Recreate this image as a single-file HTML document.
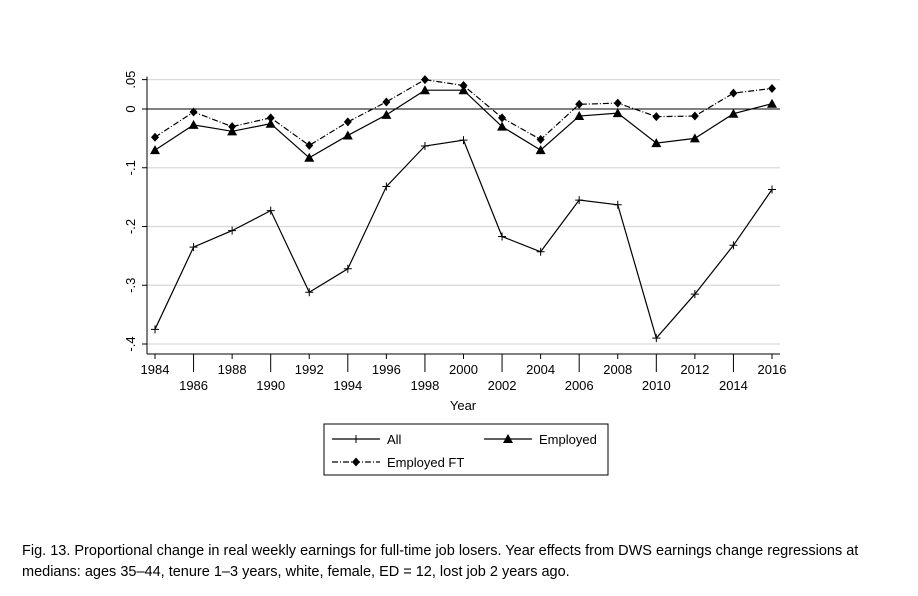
<!DOCTYPE html>
<html><head><meta charset="utf-8"><style>
body{margin:0;background:#fff;font-family:"Liberation Sans",Arial,sans-serif}
#c{position:absolute;left:0;top:0}
.cap{position:absolute;left:22px;top:541px;width:880px;font-size:14.5px;line-height:21px;color:#000}
</style></head><body>
<svg id="c" width="918" height="596" font-family="Liberation Sans, Arial, sans-serif"></svg>
<div class="cap">Fig. 13. Proportional change in real weekly earnings for full-time job losers. Year effects from DWS earnings change regressions at medians: ages 35–44, tenure 1–3 years, white, female, ED = 12, lost job 2 years ago.</div>
<script>
const years=[1984,1986,1988,1990,1992,1994,1996,1998,2000,2002,2004,2006,2008,2010,2012,2014,2016];
const allVals=[-0.375,-0.235,-0.207,-0.173,-0.312,-0.272,-0.132,-0.063,-0.053,-0.217,-0.243,-0.155,-0.163,-0.390,-0.315,-0.232,-0.137];
const empVals=[-0.070,-0.027,-0.038,-0.025,-0.083,-0.045,-0.010,0.032,0.032,-0.030,-0.070,-0.012,-0.007,-0.058,-0.050,-0.008,0.009];
const ftVals=[-0.048,-0.005,-0.030,-0.015,-0.062,-0.022,0.012,0.050,0.040,-0.015,-0.052,0.008,0.010,-0.013,-0.012,0.027,0.035];
const yTicks=[0.05,0,-0.1,-0.2,-0.3,-0.4];
const yTickLabels=[".05","0","-.1","-.2","-.3","-.4"];
const NS="http://www.w3.org/2000/svg";
const svg=document.getElementById('c');
const X=v=>155+(v-1984)*(772-155)/32;
const Y=v=>109-v*587.5;
function mk(t,a,p){const e=document.createElementNS(NS,t);for(const k in a)e.setAttribute(k,a[k]);(p||svg).appendChild(e);return e;}
// grid
yTicks.forEach((t,i)=>{
 if(t!==0){const g=mk('line',{x1:147,x2:780,y1:Y(t),y2:Y(t),stroke:'#d9d9d9','stroke-width':1.2});
 
 }
 const tk=mk('line',{x1:142,x2:147,y1:Y(t),y2:Y(t),stroke:'#000'});
 
 
 const tx=mk('text',{x:0,y:0,'font-size':13,'text-anchor':'middle',transform:`translate(135,${Y(t)}) rotate(-90)`});
 tx.textContent=yTickLabels[i];
 
 
});
const zl=mk('line',{x1:147,x2:780,y1:Y(0),y2:Y(0),stroke:'#000','stroke-width':1});


const ya=mk('line',{x1:147,x2:147,y1:Y(0.05)-3,y2:Y(-0.4)+10,stroke:'#000'});


const xa=mk('line',{x1:147,x2:780,y1:354,y2:354,stroke:'#000'});


years.forEach((yr,i)=>{
 const low=i%2===1;
 const tk=mk('line',{x1:X(yr),x2:X(yr),y1:354,y2:low?372:359,stroke:'#000'});
 
 
 const tx=mk('text',{x:X(yr),y:low?390:374,'font-size':13,'text-anchor':'middle'});
 tx.textContent=yr;
 
 
});
const xt=mk('text',{x:463,y:410,'font-size':13,'text-anchor':'middle'});xt.textContent='Year';


function plus(x,y,g){mk('path',{d:`M${x-4},${y}H${x+4}M${x},${y-4}V${y+4}`,stroke:'#000','stroke-width':1},g);}
function tri(x,y,g){mk('path',{d:`M${x},${y-5}L${x+5},${y+4}L${x-5},${y+4}Z`,fill:'#000'},g);}
function dia(x,y,g){mk('path',{d:`M${x},${y-4.5}L${x+4},${y}L${x},${y+4.5}L${x-4},${y}Z`,fill:'#000'},g);}
function series(vals,name,dash,marker){
 const g=mk('g',{});
 mk('polyline',{points:vals.map((v,i)=>X(years[i])+','+Y(v)).join(' '),fill:'none',stroke:'#000','stroke-width':1.2,'stroke-dasharray':dash},g);
 vals.forEach((v,i)=>marker(X(years[i]),Y(v),g));
}
series(allVals,'series-all','',plus);
series(empVals,'series-employed','',tri);
series(ftVals,'series-employed-ft','6,2,1,2',dia);
// legend
const lg=mk('g',{});
mk('rect',{x:324,y:424,width:284,height:51,fill:'#fff',stroke:'#000'},lg);
mk('line',{x1:332,x2:380,y1:439,y2:439,stroke:'#000','stroke-width':1.2},lg);plus(356,439,lg);
mk('text',{x:387,y:444,'font-size':13},lg).textContent='All';
mk('line',{x1:484,x2:532,y1:439,y2:439,stroke:'#000','stroke-width':1.2},lg);tri(508,439,lg);
mk('text',{x:539,y:444,'font-size':13},lg).textContent='Employed';
mk('line',{x1:332,x2:380,y1:462,y2:462,stroke:'#000','stroke-width':1.2,'stroke-dasharray':'6,2,1,2'},lg);dia(356,462,lg);
mk('text',{x:387,y:467,'font-size':13},lg).textContent='Employed FT';
</script>
</body></html>
